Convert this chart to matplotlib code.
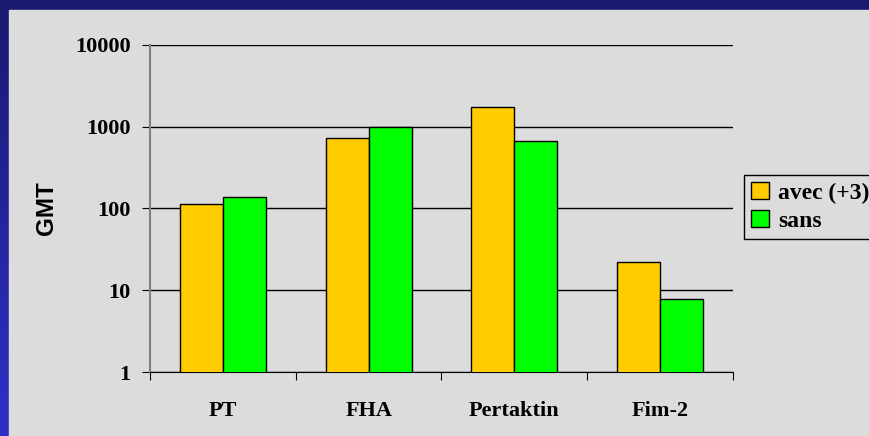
import numpy as np
import matplotlib
matplotlib.use("Agg")
import matplotlib.pyplot as plt
from matplotlib.patches import Rectangle

categories = ["PT", "FHA", "Pertaktin", "Fim-2"]
avec = [115, 733, 1750, 22]
sans = [140, 1000, 675, 7.9]
series_names = ["avec (+3)", "sans"]
colors = ["#ffcc00", "#00ff00"]
yticks = [1, 10, 100, 1000, 10000]

W, H = 870, 436
fig = plt.figure(figsize=(W / 100, H / 100), dpi=100)

# blue gradient frame
bg = fig.add_axes([0, 0, 1, 1], zorder=-2)
top = np.array([25, 25, 112]) / 255
bot = np.array([48, 48, 200]) / 255
grad = np.linspace(0, 1, 256)[:, None, None] * (bot - top) + top
bg.imshow(np.repeat(grad, 2, axis=1), aspect="auto", extent=[0, 1, 0, 1])
bg.set_axis_off()
panel_col = "#dcdcdc"
bg.add_patch(Rectangle((9 / W, 0), 1, (H - 10) / H, color=panel_col,
                       transform=bg.transAxes, zorder=2))

ax = fig.add_axes([150 / W, 1 - 372 / H, (733 - 150) / W, (372 - 45) / H])
ax.set_facecolor(panel_col)
ax.patch.set_alpha(0)

x = np.arange(len(categories))
bw = 0.295
ax.bar(x - bw / 2, avec, bw, color=colors[0], edgecolor="black", linewidth=1,
       label=series_names[0], zorder=3, bottom=0.0001)
ax.bar(x + bw / 2, sans, bw, color=colors[1], edgecolor="black", linewidth=1,
       label=series_names[1], zorder=3, bottom=0.0001)

ax.set_yscale("log")
ax.set_ylim(1, 10000)
ax.set_xlim(-0.5, len(categories) - 0.5)
ax.set_yticks(yticks)
ax.set_yticklabels([str(v) for v in yticks])
ax.yaxis.set_minor_locator(matplotlib.ticker.NullLocator())
ax.grid(axis="y", color="black", linewidth=1, zorder=0)

ax.set_xticks(np.arange(len(categories) + 1) - 0.5)
ax.set_xticklabels([])
ax.set_xticks(x, minor=True)
ax.set_xticklabels(categories, minor=True)
ax.tick_params(axis="x", which="major", direction="out", length=6, color="black")
ax.tick_params(axis="x", which="minor", length=0, pad=21)
ax.tick_params(axis="y", direction="out", length=6, pad=8)

for lab in ax.get_xticklabels(minor=True) + ax.get_yticklabels():
    lab.set_fontfamily("Liberation Serif")
    lab.set_fontweight("bold")
    lab.set_fontsize(16)

for s in ["top", "right"]:
    ax.spines[s].set_visible(False)
ax.spines["left"].set_color("#808080")
ax.spines["left"].set_linewidth(1.5)
ax.spines["bottom"].set_color("black")

ax.set_ylabel("GMT", family="Liberation Sans", weight="bold", fontsize=17.5,
              labelpad=12)

leg = ax.legend(loc="upper left", bbox_to_anchor=(744 / W, 1 - 175 / H),
                bbox_transform=fig.transFigure, frameon=True, fancybox=False,
                edgecolor="black", facecolor=panel_col, framealpha=1,
                prop=dict(family="Liberation Serif", weight="bold", size=17),
                handlelength=0.75, handleheight=0.75, handletextpad=0.4,
                borderpad=0.3, labelspacing=0.25, borderaxespad=0)
leg.get_frame().set_linewidth(1)

fig.savefig("out.png", dpi=100)
